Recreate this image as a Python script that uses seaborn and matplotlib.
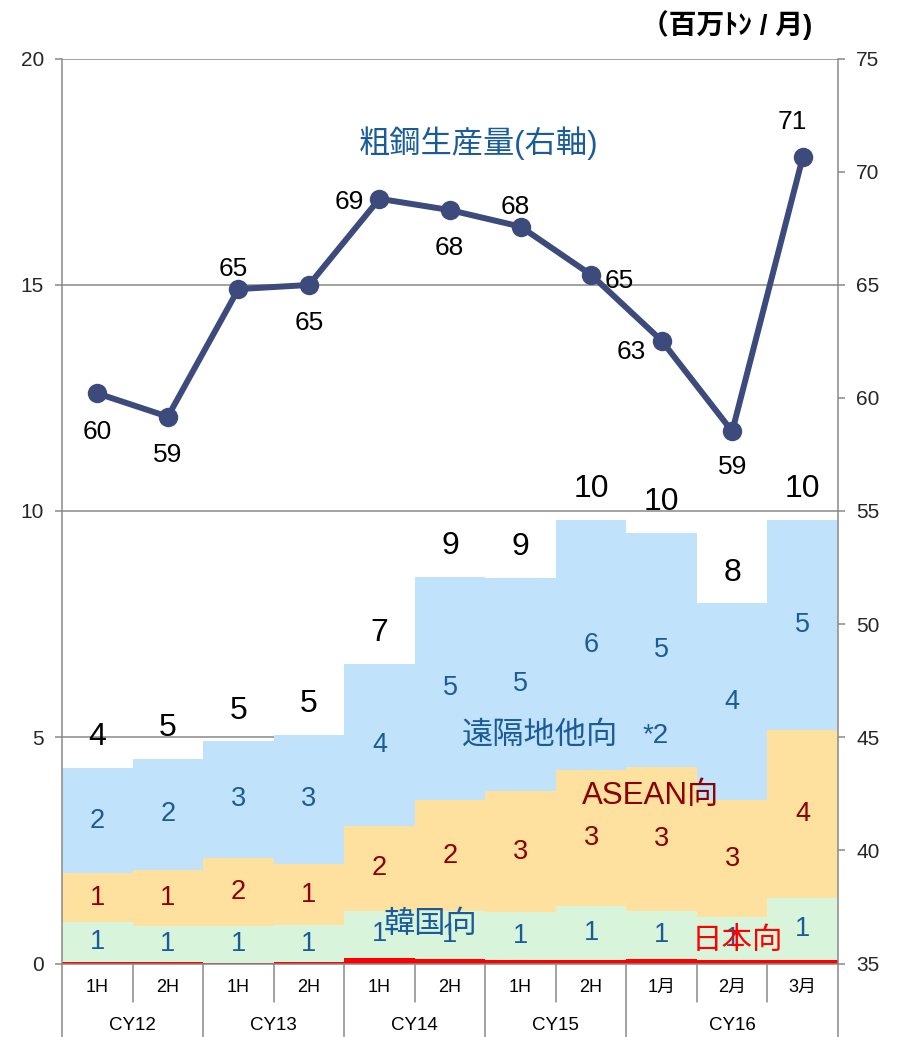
import matplotlib
matplotlib.use("Agg")
import matplotlib.pyplot as plt
import matplotlib.transforms as mtransforms
import numpy as np
import pandas as pd
import seaborn as sns

# Export volumes by destination (million tonnes / month) and crude steel output
periods = ["1H", "2H", "1H", "2H", "1H", "2H", "1H", "2H", "1月", "2月", "3月"]
groups = ["CY12", "CY13", "CY14", "CY15", "CY16"]
group_sizes = [2, 2, 2, 2, 3]

japan = [0.04, 0.04, 0.02, 0.03, 0.12, 0.09, 0.07, 0.07, 0.10, 0.08, 0.07]
korea = [0.87, 0.78, 0.80, 0.81, 1.05, 1.07, 1.06, 1.19, 1.07, 0.94, 1.38]
asean = [1.09, 1.24, 1.52, 1.35, 1.86, 2.45, 2.69, 3.02, 3.17, 2.60, 3.70]
far_east_other = [2.32, 2.47, 2.57, 2.87, 3.59, 4.94, 4.70, 5.52, 5.18, 4.34, 4.65]
crude_steel = [60.20, 59.17, 64.81, 64.99, 68.80, 68.30, 67.57, 65.44, 62.53, 58.52, 70.63]

sns.set_style("white")
plt.rcParams["font.family"] = ["Liberation Sans", "Noto Sans CJK JP", "DejaVu Sans"]

C_FAR = "#C0E3FB"
C_ASEAN = "#FEE19E"
C_KOREA = "#D8F4DA"
C_JAPAN = "#FF0000"
C_LINE = "#3C4B7B"
C_BLUE = "#1A5C9A"
C_DRED = "#8B0000"
C_GRID = "#898989"

n = len(periods)
df = pd.DataFrame({
    "idx": np.arange(n),
    "japan": japan,
    "korea": korea,
    "asean": asean,
    "far": far_east_other,
    "steel": crude_steel,
})
df["c_japan"] = df["japan"]
df["c_korea"] = df["c_japan"] + df["korea"]
df["c_asean"] = df["c_korea"] + df["asean"]
df["c_far"] = df["c_asean"] + df["far"]

fig = plt.figure(figsize=(9.03, 10.37), dpi=100)
ax = fig.add_axes([62 / 903, 1 - 963.5 / 1037, 776 / 903, 905 / 1037])

# Stacked layers: draw cumulative heights from the top layer down
for col, colr in [("c_far", C_FAR), ("c_asean", C_ASEAN),
                  ("c_korea", C_KOREA), ("c_japan", C_JAPAN)]:
    sns.barplot(data=df, x="idx", y=col, ax=ax, color=colr, width=1.0,
                linewidth=0, saturation=1, errorbar=None, zorder=2)

ax.set_xlim(-0.5, n - 0.5)
ax.set_ylim(0, 20)
ax.set_yticks([0, 5, 10, 15, 20])
ax.set_xticks([])
ax.set_xlabel("")
ax.set_ylabel("")
ax.yaxis.grid(True, color=C_GRID, linewidth=1.1)
ax.set_axisbelow(True)
for s in ["left", "right", "bottom"]:
    ax.spines[s].set_color(C_GRID)
    ax.spines[s].set_linewidth(1.1)
ax.spines["top"].set_visible(False)
ax.tick_params(axis="y", direction="out", length=5, width=1.1, color=C_GRID,
               pad=8, labelsize=15, left=True)

# Segment value labels
SEG_FS = 19.5
for i in range(n):
    r = df.iloc[i]
    ax.text(i, (r.c_japan + r.c_korea) / 2, f"{r.korea:.0f}", ha="center",
            va="center", fontsize=SEG_FS, color=C_BLUE, zorder=5)
    ax.text(i, (r.c_korea + r.c_asean) / 2, f"{r.asean:.0f}", ha="center",
            va="center", fontsize=SEG_FS, color=C_DRED, zorder=5)
    ax.text(i, (r.c_asean + r.c_far) / 2, f"{r.far:.0f}", ha="center",
            va="center", fontsize=SEG_FS, color=C_BLUE, zorder=5)
    ax.annotate(f"{r.c_far:.0f}", (i, r.c_far), xytext=(0, 22),
                textcoords="offset points", ha="center", va="center",
                fontsize=23, color="black", zorder=5)

# Crude steel production on the right axis
ax2 = ax.twinx()
sns.lineplot(data=df, x="idx", y="steel", ax=ax2, color=C_LINE, linewidth=4.3,
             marker="o", markersize=14, markeredgewidth=0, zorder=4)
ax2.set_ylim(35, 75)
ax2.set_yticks(np.arange(35, 76, 5))
ax2.set_xlim(-0.5, n - 0.5)
ax2.set_ylabel("")
ax2.set_xlabel("")
for s in ["left", "right", "bottom", "top"]:
    ax2.spines[s].set_visible(False)
ax2.tick_params(axis="y", direction="out", length=5, width=1.1, color=C_GRID,
                pad=8, labelsize=15, right=True)

# Offsets (pixels) of the production labels from their points
line_offsets = [(0, -39), (0, -38), (-5, 20), (0, -38), (-30, -3), (-1, -38),
                (-5, 20), (28, -6), (-30, -11), (0, -36), (-10, 35)]
for i, v in enumerate(crude_steel):
    dx, dy = line_offsets[i]
    ax2.annotate(f"{v:.0f}", (i, v), xytext=(dx * 0.72, dy * 0.72),
                 textcoords="offset points", ha="center", va="center",
                 fontsize=19, color="black", zorder=6)

# Series names
NAME_FS = 22.5
ax.text(5.41, 18.13, "粗鋼生産量(右軸)", ha="center", va="center",
        fontsize=NAME_FS, color=C_BLUE, zorder=6)
ax.text(6.275, 5.03, "遠隔地他向", ha="center", va="center", fontsize=NAME_FS,
        color=C_BLUE, zorder=6)
ax.text(7.92, 5.03, "*2", ha="center", va="center", fontsize=20,
        color=C_BLUE, zorder=6)
ax.text(7.85, 3.70, "ASEAN向", ha="center", va="center", fontsize=NAME_FS,
        color=C_DRED, zorder=6)
ax.text(4.72, 0.85, "韓国向", ha="center", va="center", fontsize=NAME_FS,
        color=C_BLUE, zorder=6)
ax.text(9.08, 0.50, "日本向", ha="center", va="center", fontsize=22,
        color=C_JAPAN, zorder=6)

# Two-level category axis below the plot
trans = mtransforms.blended_transform_factory(ax.transData, ax.transAxes)
inner_bottom = (963.5 - 1002) / 905
outer_bottom = (963.5 - 1040) / 905
for i, p in enumerate(periods):
    ax.text(i, (963.5 - 987) / 905, p, transform=trans, ha="center",
            va="center", fontsize=13, color="black")
start = 0
bounds = [-0.5]
for g, size in zip(groups, group_sizes):
    ax.text(start + (size - 1) / 2, (963.5 - 1025) / 905, g, transform=trans,
            ha="center", va="center", fontsize=13.5, color="black")
    for k in range(1, size):
        xb = start + k - 0.5
        ax.plot([xb, xb], [0, inner_bottom], transform=trans, color=C_GRID,
                lw=1.1, clip_on=False)
    start += size
    bounds.append(start - 0.5)
for xb in bounds:
    ax.plot([xb, xb], [0, outer_bottom], transform=trans, color=C_GRID,
            lw=1.1, clip_on=False)

fig.text(727 / 903, 1 - 25 / 1037, "（百万ﾄﾝ / 月)", ha="center", va="center",
         fontsize=20, fontweight="bold", color="black")

fig.savefig("out.png", dpi=100)
